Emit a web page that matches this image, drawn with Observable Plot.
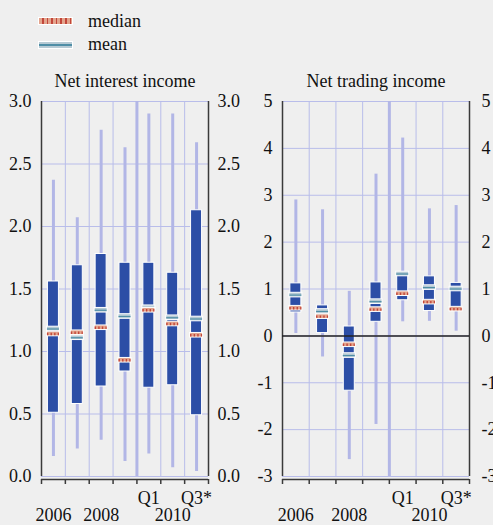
<!DOCTYPE html>
<html>
<head>
<meta charset="utf-8">
<script src="https://cdn.jsdelivr.net/npm/d3@7"></script>
<script src="https://cdn.jsdelivr.net/npm/@observablehq/plot@0.6"></script>
<style>
  html, body { margin: 0; padding: 0; background: #efefef; overflow: hidden; }
  #wrap { position: relative; width: 493px; height: 525px; font-family: "Liberation Serif", Tinos, "Times New Roman", Times, "DejaVu Serif", serif; color: #111; }
  .panel { position: absolute; top: 0; }
  .leg { position: absolute; font-size: 18px; line-height: 1; }
  .sw { position: absolute; width: 35px; height: 8px; box-sizing: border-box; border: 1px solid #fff; }
  #swMed { background: repeating-linear-gradient(90deg, #e3a48d 0 3px, #c2463a 3px 4.6px); }
  #swMean { background: linear-gradient(180deg, #b6cad4 0 2.5px, #4f8ea6 2.5px 4px, #b6cad4 4px 100%); }
  svg text { font-family: "Liberation Serif", Tinos, "Times New Roman", Times, "DejaVu Serif", serif; }
</style>
</head>
<body>
<div id="wrap">
  <div class="sw" id="swMed" style="left:38px; top:17px;"></div>
  <div class="leg" style="left:88px; top:12px;">median</div>
  <div class="sw" id="swMean" style="left:38px; top:41px;"></div>
  <div class="leg" style="left:88px; top:35px;">mean</div>
  <div class="panel" id="left" style="left:0px;"></div>
  <div class="panel" id="right" style="left:241px;"></div>
</div>
<script>
// ---- data ----
const categories = ["2006", "2007", "2008", "2009", "2010 Q1", "2010 Q2", "2010 Q3*"];
const labelsRow1 = ["", "", "", "", "Q1", "", "Q3*"];
const labelsRow2 = ["2006", "", "2008", "", "", "2010", ""];
const separatorBefore = "2010 Q1";

const niiTitle = "Net interest income";
const niiMin    = [0.16, 0.22, 0.29, 0.12, 0.18, 0.07, 0.04];
const niiMax    = [2.37, 2.07, 2.77, 2.63, 2.90, 2.90, 2.67];
const niiQ1     = [0.51, 0.58, 0.72, 0.84, 0.71, 0.73, 0.49];
const niiQ3     = [1.56, 1.69, 1.78, 1.71, 1.71, 1.63, 2.13];
const niiMedian = [1.14, 1.15, 1.19, 0.93, 1.33, 1.22, 1.13];
const niiMean   = [1.18, 1.11, 1.33, 1.28, 1.35, 1.27, 1.26];
const niiTicks  = [0, 0.5, 1, 1.5, 2, 2.5, 3];

const ntiTitle = "Net trading income";
const ntiMin    = [0.05, -0.45, -2.64, -1.89, 0.30, 0.31, 0.10];
const ntiMax    = [2.90, 2.69, 0.95, 3.45, 4.22, 2.71, 2.78];
const ntiQ1     = [0.50, 0.06, -1.17, 0.30, 0.76, 0.53, 0.55];
const ntiQ3     = [1.12, 0.65, 0.20, 1.14, 1.30, 1.27, 1.13];
const ntiMedian = [0.59, 0.41, -0.19, 0.56, 0.90, 0.72, 0.57];
const ntiMean   = [0.87, 0.52, -0.42, 0.73, 1.32, 1.03, 1.00];
const ntiTicks  = [-3, -2, -1, 0, 1, 2, 3, 4, 5];

// ---- styles ----
const C = {
  box: "#2c4ea6", whisker: "#b2b6e6", grid: "#b9bdea", axis: "#3a3a3a",
  medFill: "#e3a48d", medLine: "#c2463a", meanFill: "#b6cad4", meanLine: "#4f8ea6"
};
const FONT = "'Liberation Serif', Tinos, 'Times New Roman', Times, 'DejaVu Serif', serif";

function panel({title, min, max, q1, q3, median, mean, ticks, fmt, width, mL, mR, padL, padR, zero}) {
  const rows = categories.map((c, i) => ({c, i, x: i + 0.5, min: min[i], max: max[i], q1: q1[i], q3: q3[i], median: median[i], mean: mean[i]}));
  const n = categories.length;
  const bounds = d3.range(n + 1);
  const inner = bounds.slice(1, n);
  const sep = categories.indexOf(separatorBefore);
  const ylo = ticks[0], yhi = ticks[ticks.length - 1];
  const marks = [
    Plot.ruleY(ticks, {stroke: C.grid, strokeWidth: 1}),
    Plot.ruleX(inner, {stroke: C.grid, strokeWidth: 1}),
    Plot.ruleX([sep], {y1: ylo, y2: yhi, stroke: C.whisker, strokeWidth: 3}),
    Plot.ruleX(rows, {x: "x", y1: "min", y2: "max", stroke: C.whisker, strokeWidth: 3}),
    Plot.rect(rows, {x1: "x", x2: "x", y1: "q1", y2: "q3", insetLeft: -5.5, insetRight: -5.5, fill: C.box, stroke: "#fff", strokeWidth: 1}),
    Plot.rect(rows, {x1: "x", x2: "x", y1: "mean", y2: "mean", insetLeft: -6.5, insetRight: -6.5, insetTop: -2.3, insetBottom: -2.3, fill: C.meanFill, stroke: "#fff", strokeWidth: 1}),
    Plot.ruleY(rows, {y: "mean", x1: "x", x2: "x", insetLeft: -6, insetRight: -6, stroke: C.meanLine, strokeWidth: 1.2}),
    Plot.rect(rows, {x1: "x", x2: "x", y1: "median", y2: "median", insetLeft: -6.5, insetRight: -6.5, insetTop: -2.3, insetBottom: -2.3, fill: C.medFill, stroke: "#fff", strokeWidth: 1}),
    Plot.ruleY(rows, {y: "median", x1: "x", x2: "x", insetLeft: -6, insetRight: -6, stroke: C.medLine, strokeWidth: 2.4, strokeDasharray: "1.4,2.2"}),
    Plot.ruleX([0, n], {stroke: C.axis, strokeWidth: 1.5}),
    Plot.ruleY([ylo], {dy: 3, stroke: C.axis, strokeWidth: 1.5}),
    Plot.axisX({ticks: bounds, tickSize: 5, dy: 3, tickFormat: () => "", label: null, stroke: C.axis, strokeWidth: 1.5}),
    Plot.axisX({ticks: rows.map(d => d.x), tickSize: 0, tickPadding: 15, tickFormat: v => labelsRow1[Math.floor(v)], label: null, fill: "#111"}),
    Plot.axisX({ticks: rows.map(d => d.x), tickSize: 0, tickPadding: 32, tickFormat: v => labelsRow2[Math.floor(v)], label: null, fill: "#111"}),
    Plot.axisY({anchor: "left", ticks, tickSize: 0, tickPadding: padL, tickFormat: fmt, label: null, fill: "#111"}),
    Plot.axisY({anchor: "right", ticks, tickSize: 0, tickPadding: padR, tickFormat: fmt, label: null, fill: "#111"}),
    Plot.text([title], {frameAnchor: "top", lineAnchor: "middle", dy: -20, fill: "#111"})
  ];
  if (zero) marks.push(Plot.ruleY([0], {stroke: "#222", strokeWidth: 1.5}));
  return Plot.plot({
    width, height: 525,
    marginLeft: mL, marginRight: mR, marginTop: 101, marginBottom: 49,
    x: {type: "linear", domain: [0, n], axis: null},
    y: {domain: [ylo, yhi], axis: null},
    style: {background: "transparent", fontFamily: FONT, fontSize: "18px", overflow: "visible"},
    marks
  });
}

document.getElementById("left").appendChild(panel({
  title: niiTitle, min: niiMin, max: niiMax, q1: niiQ1, q3: niiQ3, median: niiMedian, mean: niiMean,
  ticks: niiTicks, fmt: d3.format(".1f"), width: 246, mL: 41, mR: 38, padL: 10, padR: 9, zero: false
}));
document.getElementById("right").appendChild(panel({
  title: ntiTitle, min: ntiMin, max: ntiMax, q1: ntiQ1, q3: ntiQ3, median: ntiMedian, mean: ntiMean,
  ticks: ntiTicks, fmt: d => String(d), width: 252, mL: 41, mR: 24, padL: 10, padR: 12, zero: true
}));
</script>
</body>
</html>
